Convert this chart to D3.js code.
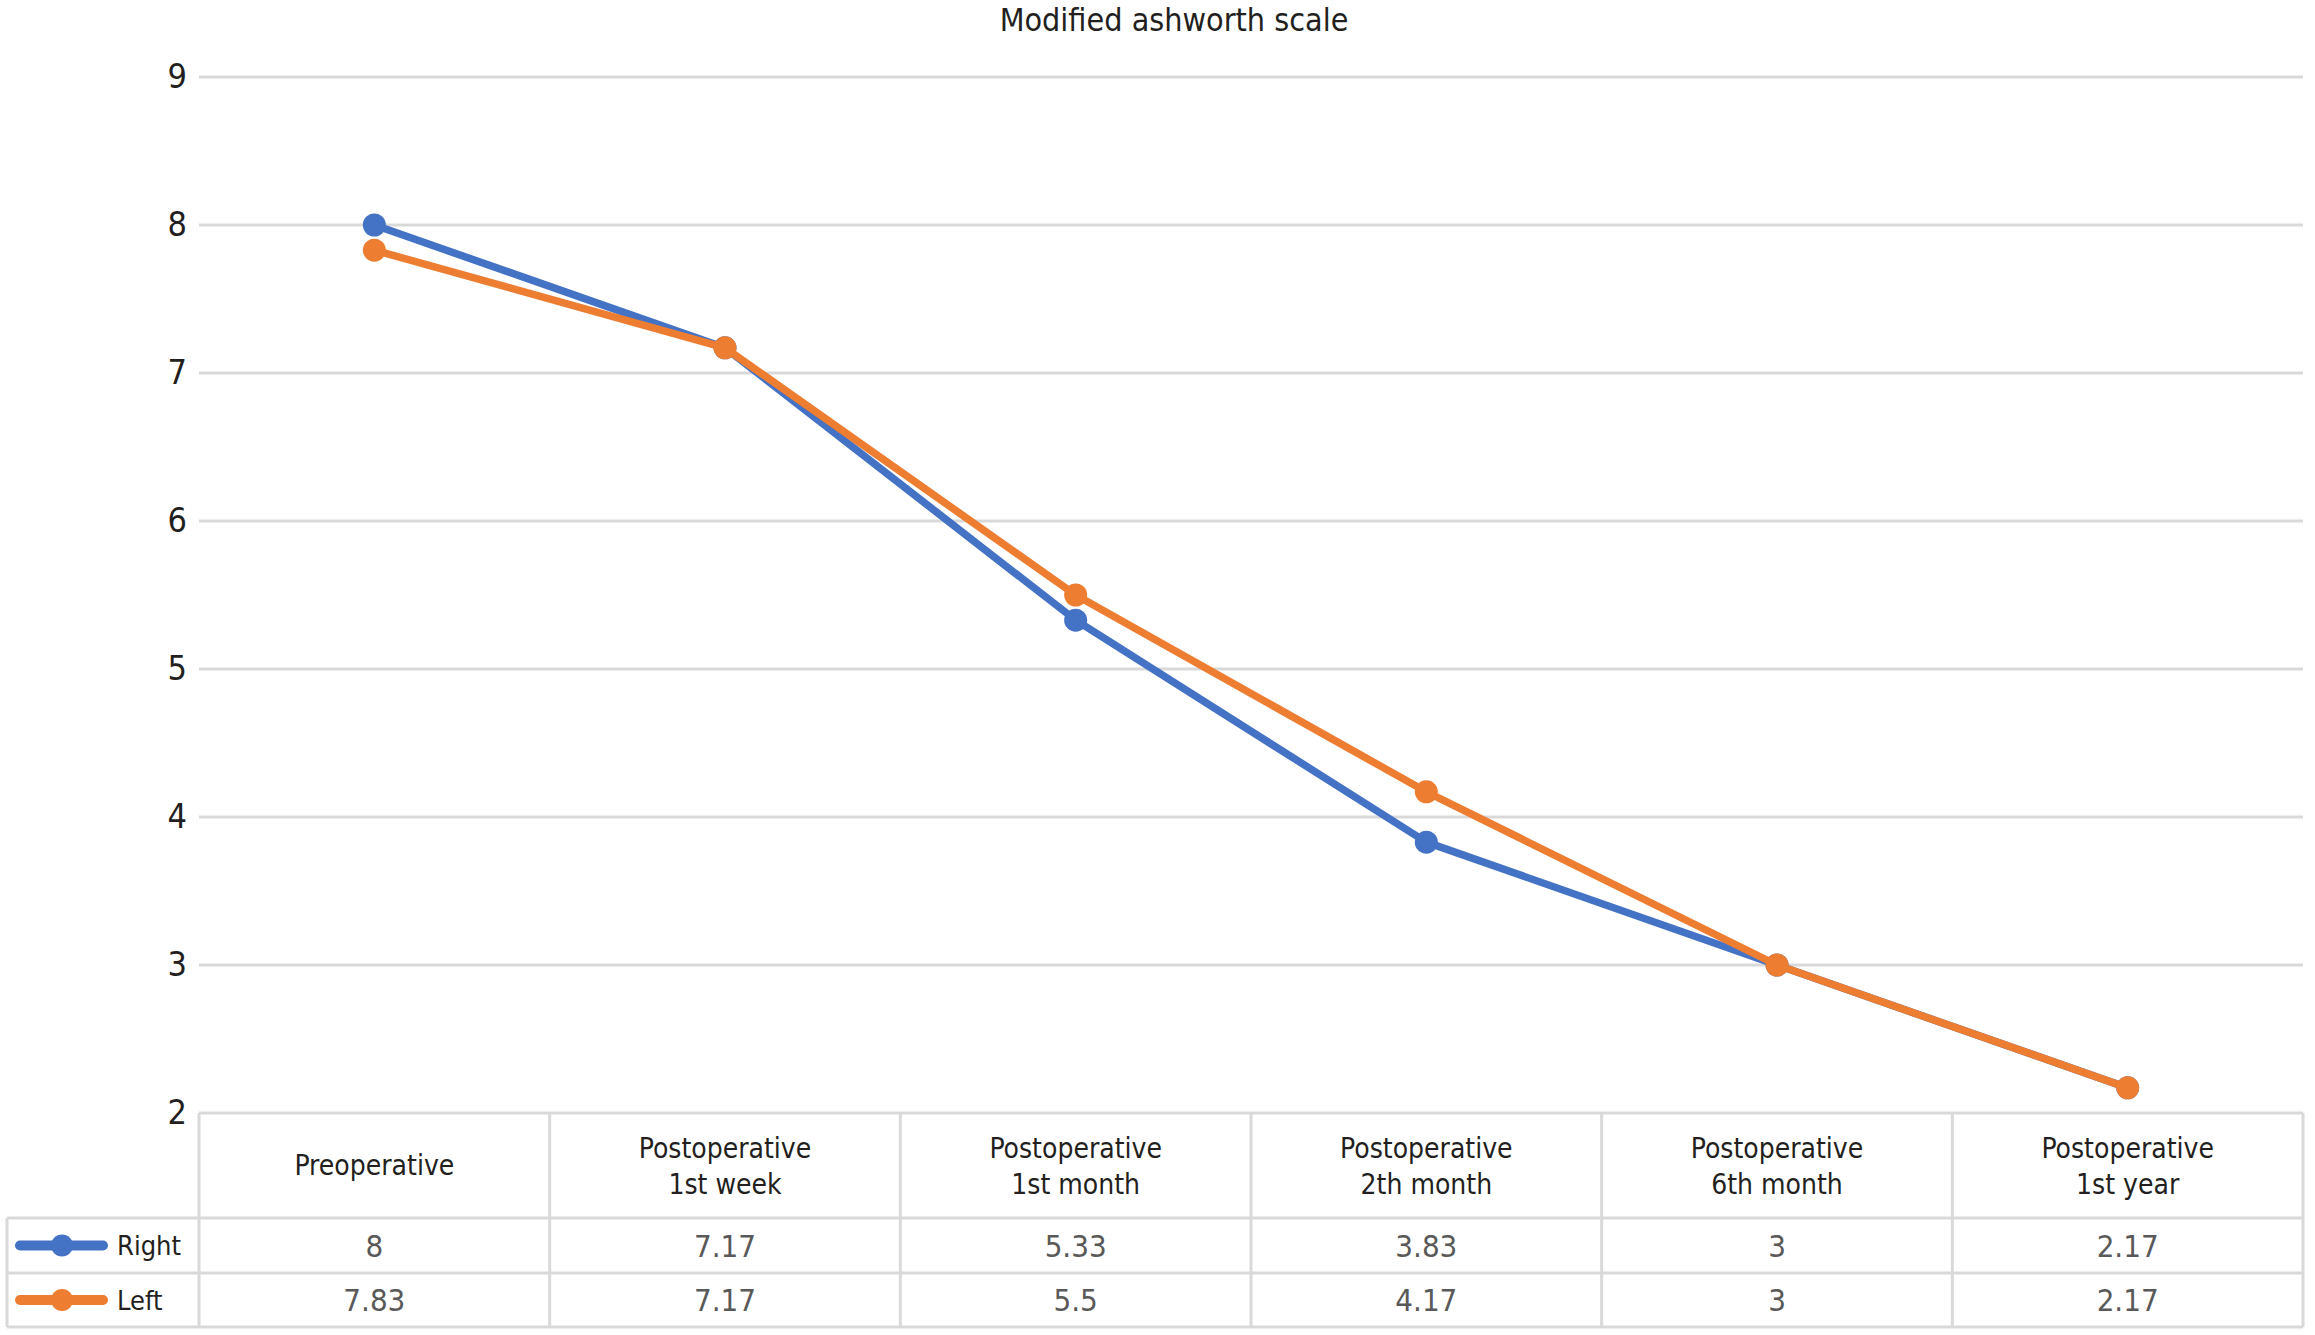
<!DOCTYPE html>
<html>
<head>
<meta charset="utf-8">
<script src="https://cdn.jsdelivr.net/npm/d3@7"></script>
<style>
  html, body { margin: 0; padding: 0; background: #fff; }
  svg { display: block; font-family: "DejaVu Sans Condensed", "DejaVu Sans", sans-serif; }
</style>
</head>
<body>
<svg id="chart" width="2315" height="1335"></svg>
<script>
const title = "Modified ashworth scale";
const categories = [
  ["Preoperative"],
  ["Postoperative", "1st week"],
  ["Postoperative", "1st month"],
  ["Postoperative", "2th month"],
  ["Postoperative", "6th month"],
  ["Postoperative", "1st year"]
];
const seriesNames = ["Right", "Left"];
const rightValues = [8, 7.17, 5.33, 3.83, 3, 2.17];
const leftValues = [7.83, 7.17, 5.5, 4.17, 3, 2.17];
const yTicks = [2, 3, 4, 5, 6, 7, 8, 9];
const colors = ["#4472C4", "#ED7D31"];

const series = [
  { name: seriesNames[0], values: rightValues, color: colors[0] },
  { name: seriesNames[1], values: leftValues, color: colors[1] }
];

const svg = d3.select("#chart");
const plotLeft = 199, plotRight = 2303, plotTop = 77, plotBottom = 1113;
const rowH = [105, 55, 54];
const legendLeft = 7;
const gridColor = "#d9d9d9";
const dark = "#231f20";

const x = d3.scaleBand().domain(d3.range(categories.length)).range([plotLeft, plotRight]);
const y = d3.scaleLinear().domain([2, 9]).range([plotBottom, plotTop]);

// title
svg.append("text").attr("x", 1174).attr("y", 31).attr("text-anchor", "middle")
  .attr("font-size", 32).attr("fill", dark).text(title);

// gridlines
svg.append("g").selectAll("line").data(yTicks.filter(t => t > 2)).join("line")
  .attr("x1", plotLeft).attr("x2", plotRight)
  .attr("y1", d => y(d)).attr("y2", d => y(d))
  .attr("stroke", gridColor).attr("stroke-width", 3);

// y axis labels
const yAxis = d3.axisLeft(y).tickValues(yTicks).tickFormat(d3.format("d")).tickSize(0).tickPadding(0);
const ya = svg.append("g").attr("transform", `translate(187,0)`).call(yAxis);
ya.select(".domain").remove();
ya.selectAll("text").attr("font-size", 34).attr("fill", dark)
  .attr("font-family", "DejaVu Sans Condensed, DejaVu Sans, sans-serif");

// table
const t0 = plotBottom, t1 = t0 + rowH[0], t2 = t1 + rowH[1], t3 = t2 + rowH[2];
const tg = svg.append("g").attr("stroke", gridColor).attr("stroke-width", 3).attr("fill", "none");
tg.append("line").attr("x1", plotLeft).attr("x2", plotRight).attr("y1", t0).attr("y2", t0);
[t1, t2, t3].forEach(yy => tg.append("line").attr("x1", legendLeft).attr("x2", plotRight).attr("y1", yy).attr("y2", yy));
tg.append("line").attr("x1", legendLeft).attr("x2", legendLeft).attr("y1", t1).attr("y2", t3);
const bounds = categories.map((c, i) => x(i)).concat([plotRight]);
tg.selectAll("line.v").data(bounds).join("line").attr("class", "v")
  .attr("x1", d => d).attr("x2", d => d).attr("y1", t0).attr("y2", t3);

// header text
const hdr = svg.append("g").selectAll("text").data(categories).join("text")
  .attr("text-anchor", "middle").attr("font-size", 28).attr("fill", dark)
  .attr("x", (d, i) => x(i) + x.bandwidth() / 2)
  .attr("y", d => d.length === 1 ? 1175 : 1158);
hdr.selectAll("tspan").data(d => d).join("tspan")
  .attr("x", function() { return d3.select(this.parentNode).attr("x"); })
  .attr("dy", (d, i) => i === 0 ? 0 : 36).text(d => d);

// values
const rowsY = [(t1 + t2) / 2, (t2 + t3) / 2];
series.forEach((s, si) => {
  svg.append("g").selectAll("text").data(s.values).join("text")
    .attr("text-anchor", "middle").attr("dominant-baseline", "central")
    .attr("font-size", 31).attr("fill", "#595959")
    .attr("x", (d, i) => x(i) + x.bandwidth() / 2).attr("y", rowsY[si])
    .text(d => d);
  const lg = svg.append("g");
  lg.append("line").attr("x1", 20).attr("x2", 103).attr("y1", rowsY[si]).attr("y2", rowsY[si])
    .attr("stroke", s.color).attr("stroke-width", 10).attr("stroke-linecap", "round");
  lg.append("circle").attr("cx", 62).attr("cy", rowsY[si]).attr("r", 11).attr("fill", s.color);
  lg.append("text").attr("x", 117).attr("y", rowsY[si]).attr("dominant-baseline", "central")
    .attr("font-size", 27).attr("fill", dark).text(s.name);
});

// lines
const line = d3.line().x((d, i) => x(i) + x.bandwidth() / 2).y(d => y(d));
series.forEach(s => {
  const g = svg.append("g");
  g.append("path").datum(s.values).attr("d", line)
    .attr("fill", "none").attr("stroke", s.color).attr("stroke-width", 7.5)
    .attr("stroke-linejoin", "round");
  g.selectAll("circle").data(s.values).join("circle")
    .attr("cx", (d, i) => x(i) + x.bandwidth() / 2).attr("cy", d => y(d))
    .attr("r", 11.5).attr("fill", s.color);
});
</script>
</body>
</html>
